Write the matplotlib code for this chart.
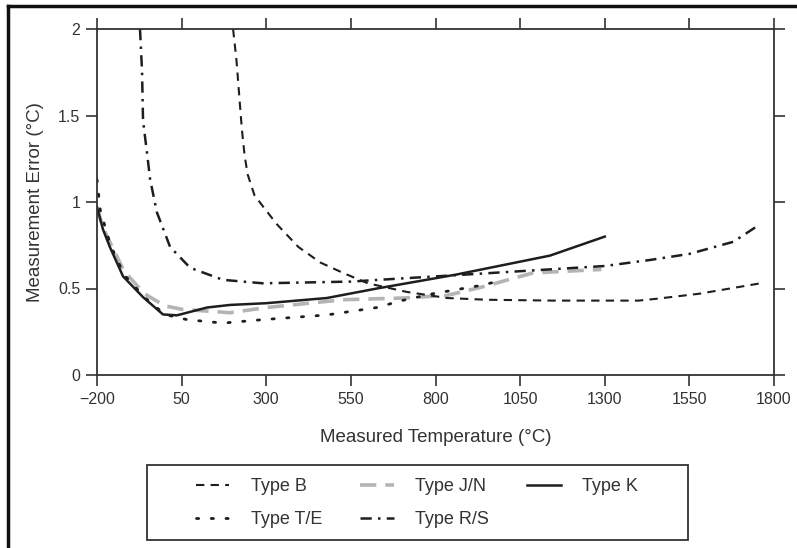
import matplotlib
matplotlib.use("Agg")
import matplotlib.pyplot as plt
from matplotlib.lines import Line2D
from matplotlib.patches import Rectangle

plt.rcParams['font.family'] = ['Liberation Sans Narrow', 'Liberation Sans', 'DejaVu Sans']

# Type B
b_temp = [202, 212, 220, 228, 236, 245, 265, 292, 332, 395, 460, 527, 600, 716, 834, 950, 1150, 1400, 1450, 1580, 1760]
b_err = [2.0, 1.82, 1.62, 1.42, 1.27, 1.16, 1.04, 0.97, 0.87, 0.74, 0.65, 0.59, 0.53, 0.48, 0.445, 0.435, 0.43, 0.43, 0.44, 0.47, 0.53]
# Type J/N
jn_temp = [-200, -182, -160, -120, -60, 0, 50, 193, 300, 527, 704, 834, 940, 1088, 1188, 1290]
jn_err = [0.97, 0.85, 0.76, 0.60, 0.47, 0.40, 0.38, 0.36, 0.39, 0.435, 0.445, 0.46, 0.51, 0.59, 0.60, 0.61]
# Type K
k_temp = [-200, -182, -162, -123, -64, -5, 36, 125, 193, 300, 479, 627, 860, 1138, 1300]
k_err = [0.97, 0.84, 0.74, 0.57, 0.45, 0.35, 0.345, 0.39, 0.405, 0.415, 0.445, 0.50, 0.58, 0.69, 0.80]
# Type T/E
te_temp = [-200, -190, -160, -120, -60, 0, 66, 172, 290, 479, 627, 700, 793, 940, 1000]
te_err = [1.13, 0.95, 0.75, 0.58, 0.45, 0.35, 0.32, 0.30, 0.32, 0.347, 0.39, 0.43, 0.47, 0.52, 0.55]
# Type R/S
rs_temp = [-73, -67, -64, -52, -43, -23, 16, 75, 172, 290, 550, 674, 843, 1050, 1300, 1434, 1550, 1680, 1750]
rs_err = [2.0, 1.76, 1.47, 1.28, 1.13, 0.94, 0.74, 0.62, 0.55, 0.53, 0.54, 0.555, 0.575, 0.60, 0.63, 0.665, 0.70, 0.77, 0.86]

x_ticks = [-200, 50, 300, 550, 800, 1050, 1300, 1550, 1800]
y_ticks = [0, 0.5, 1, 1.5, 2]
y_tick_labels = ["0", "0.5", "1", "1.5", "2"]

fig = plt.figure(figsize=(7.97, 5.48), dpi=100)
ax = fig.add_axes([97/797, 1-375/548, (774-97)/797, (375-29)/548])

ink = "#1e1e1e"
ax.plot(jn_temp, jn_err, color="#b4b4b4", lw=2.6, dashes=(4.5, 2.5), label="Type J/N")
ax.plot(b_temp, b_err, color=ink, lw=1.5, dashes=(4, 3), label="Type B")
ax.plot(te_temp, te_err, color=ink, lw=2.0, dashes=(0.8, 4.5), dash_capstyle="round", label="Type T/E")
ax.plot(rs_temp, rs_err, color=ink, lw=1.8, dashes=(4.5, 2.5, 1, 2.5), label="Type R/S")
ax.plot(k_temp, k_err, color=ink, lw=1.8, label="Type K")

ax.set_xlim(-200, 1800)
ax.set_ylim(0, 2)
ax.set_xticks(x_ticks)
ax.set_yticks(y_ticks)
ax.set_yticklabels(y_tick_labels)
ax.tick_params(direction="out", length=8, width=1.2, top=True, right=True,
               labelsize=11.5, colors="#333333", labelcolor="#333333", pad=4)
for s in ax.spines.values():
    s.set_linewidth(1.3)
    s.set_color("#333333")

ax.set_xlabel("Measured Temperature (\u00b0C)", fontsize=13.5, color="#333333", labelpad=16)
ax.set_ylabel("Measurement Error (\u00b0C)", fontsize=13.5, color="#333333", labelpad=10)

# legend order: B, T/E | J/N, R/S | K
h = {l.get_label(): l for l in ax.get_lines()}
order = ["Type B", "Type T/E", "Type J/N", "Type R/S", "Type K"]
leg = fig.legend([h[o] for o in order], order, loc="center left",
                 bbox_to_anchor=(196/797, 1-503/548), frameon=False,
                 ncol=3, fontsize=13, handlelength=1.85, handletextpad=1.2,
                 columnspacing=2.1, borderpad=0, labelspacing=0.9, borderaxespad=0)
for t in leg.get_texts():
    t.set_color("#333333")
fig.add_artist(Rectangle((147/797, 1-540/548), (688-147)/797, 75/548, transform=fig.transFigure,
                         fill=False, edgecolor="#333333", lw=1.3))

# outer frame
fig.add_artist(Line2D([8/797, 8/797], [0, 1-6/548], transform=fig.transFigure, color="#111111", lw=2.5))
fig.add_artist(Line2D([8/797, 1], [1-6/548, 1-6/548], transform=fig.transFigure, color="#111111", lw=2.5))

fig.savefig("out.png", dpi=100, facecolor="white")
